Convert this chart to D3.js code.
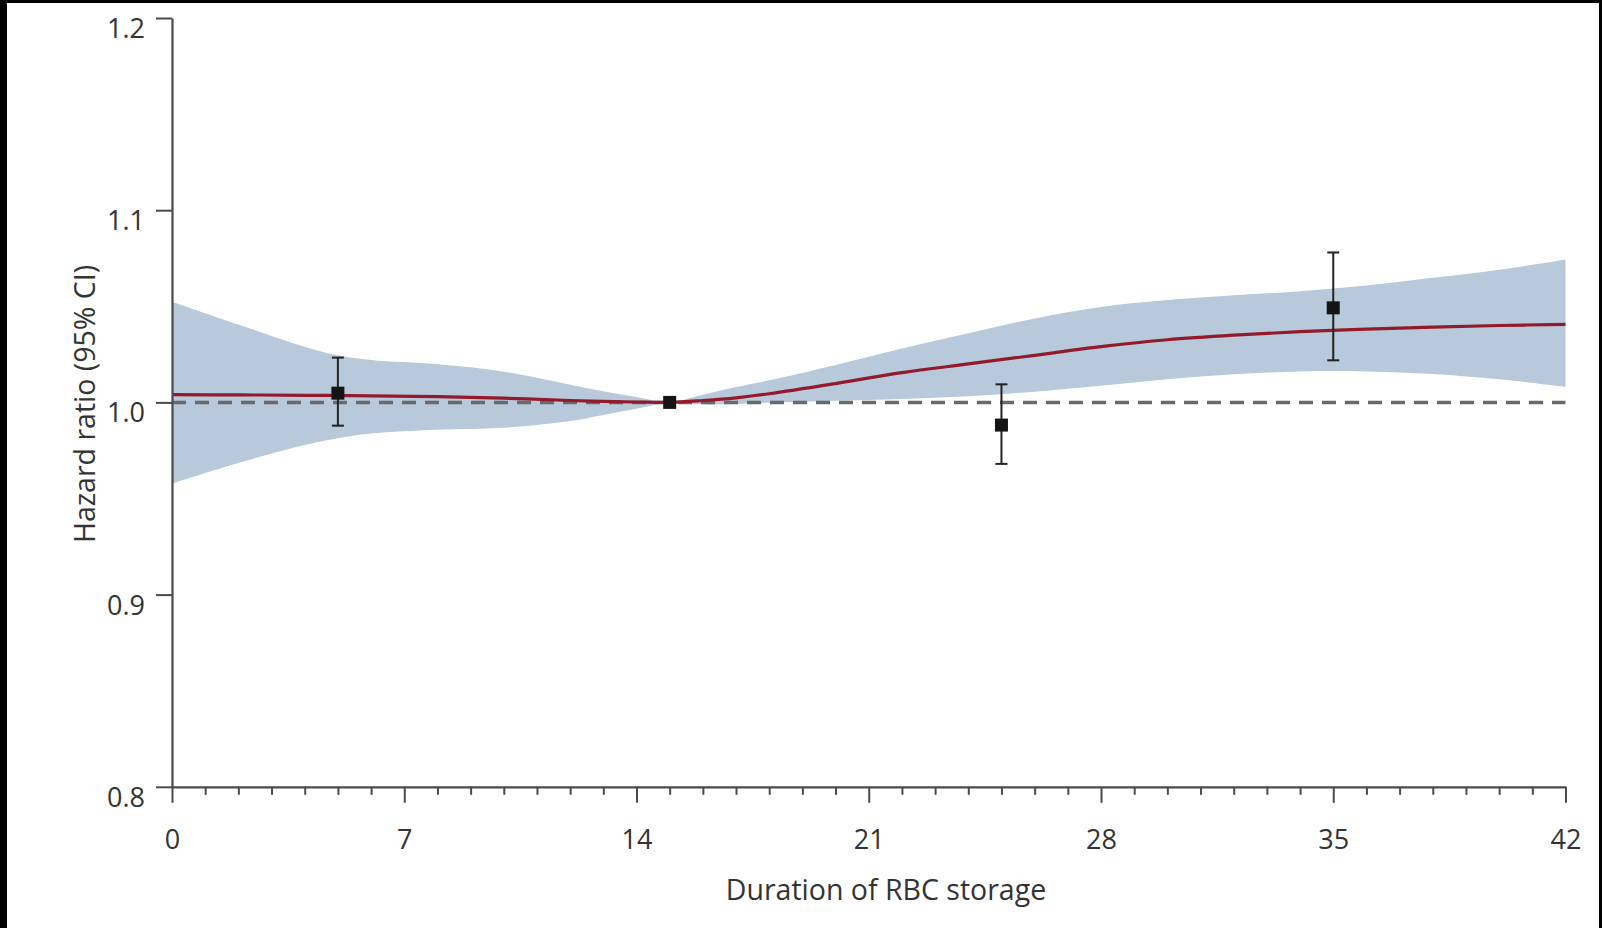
<!DOCTYPE html>
<html>
<head>
<meta charset="utf-8">
<script src="https://cdn.jsdelivr.net/npm/d3@7"></script>
<style>
  html, body { margin: 0; padding: 0; background: #000; }
  svg { display: block; }
  text { font-family: "Open Sans", "Noto Sans", sans-serif; fill: #333; }
</style>
</head>
<body>
<svg id="chart" width="1602" height="928"></svg>
<script>
// ---- data ----
const curveDays = [0, 2, 4, 5, 6, 8, 10, 12, 13, 14, 15, 16, 17, 18, 20, 22, 24, 26, 28, 30, 32, 34, 36, 38, 40, 42];
const curveHR   = [1.0040, 1.0039, 1.0037, 1.0036, 1.0034, 1.0030, 1.0022, 1.0010, 1.0005, 1.0002, 1.0000, 1.0010, 1.0024, 1.0045, 1.0098, 1.0155, 1.0200, 1.0245, 1.0290, 1.0326, 1.0350, 1.0368, 1.0381, 1.0392, 1.0400, 1.0406];
const curveUpper = [1.0524, 1.0405, 1.0290, 1.0245, 1.0220, 1.0198, 1.0160, 1.0092, 1.0058, 1.0028, 1.0002, 1.0040, 1.0080, 1.0115, 1.0195, 1.0280, 1.0360, 1.0437, 1.0497, 1.0533, 1.0558, 1.0578, 1.0608, 1.0648, 1.0690, 1.0744];
const curveLower = [0.9578, 0.9685, 0.9778, 0.9813, 0.9838, 0.9858, 0.9868, 0.9903, 0.9935, 0.9967, 0.9998, 0.9990, 0.9992, 0.9998, 1.0008, 1.0018, 1.0032, 1.0056, 1.0086, 1.0120, 1.0146, 1.0161, 1.0161, 1.0148, 1.0120, 1.0081];

const pointDays = [5, 15, 25, 35];
const pointHR   = [1.0048, 1.0000, 0.9882, 1.0492];
const pointLo   = [0.9879, null, 0.9680, 1.0219];
const pointHi   = [1.0233, null, 1.0094, 1.0780];

const xMajorTicks = [0, 7, 14, 21, 28, 35, 42];
const yTicks = [0.8, 0.9, 1.0, 1.1, 1.2];
const xLabel = "Duration of RBC storage";
const yLabel = "Hazard ratio (95% CI)";

// ---- layout ----
const svg = d3.select("#chart");
svg.append("rect").attr("x", 7).attr("y", 3).attr("width", 1592).attr("height", 925).attr("fill", "#fff");

const x = d3.scaleLinear().domain([0, 42]).range([172, 1565.5]);
const y = d3.scaleLinear().domain([0.8, 1.2]).range([786.8, 18]);

const band = curveDays.map((d, i) => ({ d, lo: curveLower[i], hi: curveUpper[i], hr: curveHR[i] }));

// CI band
svg.append("path")
  .datum(band)
  .attr("fill", "#b9c9dc")
  .attr("d", d3.area().x(p => x(p.d)).y0(p => y(p.lo)).y1(p => y(p.hi)).curve(d3.curveCatmullRom.alpha(0.5)));

// reference line at HR = 1
svg.append("line")
  .attr("x1", x(0)).attr("x2", x(42))
  .attr("y1", y(1)).attr("y2", y(1))
  .attr("stroke", "#6a6a6a").attr("stroke-width", 3.5)
  .attr("stroke-dasharray", "14,9");

// fitted curve
svg.append("path")
  .datum(band)
  .attr("fill", "none")
  .attr("stroke", "#921a2b")
  .attr("stroke-width", 3.2)
  .attr("d", d3.line().x(p => x(p.d)).y(p => y(p.hr)).curve(d3.curveCatmullRom.alpha(0.5)));

// axes
const axisColor = "#4a4a4a";
const gx = svg.append("g").attr("transform", `translate(0,${y(0.8)})`);
gx.call(d3.axisBottom(x).tickValues(d3.range(0, 43).filter(v => v % 7 !== 0)).tickSize(8).tickSizeOuter(0).tickFormat(""));
gx.call(g => g.select(".domain").remove());
const gx2 = svg.append("g").attr("transform", `translate(0,${y(0.8)})`);
gx2.call(d3.axisBottom(x).tickValues(xMajorTicks).tickSize(16).tickSizeOuter(0).tickPadding(27).tickFormat(d3.format("d")));
[gx, gx2].forEach(g => {
  g.selectAll("line").attr("stroke", axisColor).attr("stroke-width", 2);
  g.selectAll("path").attr("stroke", axisColor).attr("stroke-width", 2.2);
  g.selectAll("text").style("font-size", "27px").attr("fill", "#333");
});

const gy = svg.append("g").attr("transform", `translate(${x(0)},0)`);
gy.call(d3.axisLeft(y).tickValues(yTicks).tickSize(16).tickSizeOuter(0).tickPadding(11).tickFormat(d3.format(".1f")));
gy.selectAll("line").attr("stroke", axisColor).attr("stroke-width", 2);
gy.selectAll("path").attr("stroke", axisColor).attr("stroke-width", 2.2);
gy.selectAll("text").style("font-size", "27px").attr("fill", "#333").attr("dy", "0.72em").attr("y", 0);

// error bars and markers
const pts = pointDays.map((d, i) => ({ d, hr: pointHR[i], lo: pointLo[i], hi: pointHi[i] }));
const eb = svg.append("g").attr("stroke", "#222").attr("stroke-width", 2);
pts.filter(p => p.lo !== null).forEach(p => {
  eb.append("line").attr("x1", x(p.d)).attr("x2", x(p.d)).attr("y1", y(p.lo)).attr("y2", y(p.hi));
  eb.append("line").attr("x1", x(p.d) - 6).attr("x2", x(p.d) + 6).attr("y1", y(p.lo)).attr("y2", y(p.lo));
  eb.append("line").attr("x1", x(p.d) - 6).attr("x2", x(p.d) + 6).attr("y1", y(p.hi)).attr("y2", y(p.hi));
});
svg.append("g").selectAll("rect").data(pts).join("rect")
  .attr("x", p => x(p.d) - 6.5).attr("y", p => y(p.hr) - 6.5)
  .attr("width", 13).attr("height", 13)
  .attr("fill", "#141414");

// axis titles
svg.append("text")
  .attr("x", 886).attr("y", 900)
  .attr("text-anchor", "middle")
  .style("font-size", "28.5px")
  .text(xLabel);
svg.append("text")
  .attr("transform", "translate(95,404) rotate(-90)")
  .attr("text-anchor", "middle")
  .style("font-size", "28.5px")
  .text(yLabel);
</script>
</body>
</html>
